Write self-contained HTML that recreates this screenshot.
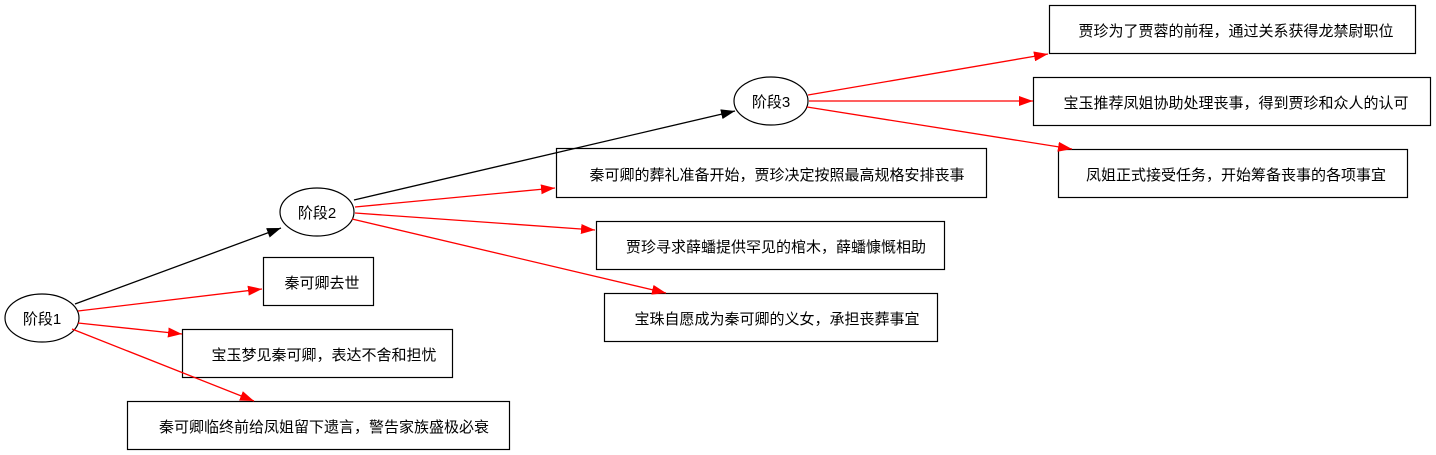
<!DOCTYPE html>
<html><head><meta charset="utf-8"><style>
html,body{margin:0;padding:0;background:#fff;}
svg{display:block;}
text{font-family:"Liberation Sans","Noto Sans CJK SC",sans-serif;font-size:15px;fill:#000;}
</style></head><body>
<svg width="1436" height="455" viewBox="0 0 1436 455" xmlns="http://www.w3.org/2000/svg">
<defs>
<marker id="ab" viewBox="0 0 14 10" refX="14" refY="5" markerWidth="14" markerHeight="10" markerUnits="userSpaceOnUse" orient="auto"><path d="M0,0 L14,5 L0,10 z" fill="#000"/></marker>
<marker id="ar" viewBox="0 0 14 10" refX="14" refY="5" markerWidth="14" markerHeight="10" markerUnits="userSpaceOnUse" orient="auto"><path d="M0,0 L14,5 L0,10 z" fill="#f00"/></marker>
</defs>
<g fill="#fff" stroke="#000" stroke-width="1.2">
<ellipse cx="42" cy="318" rx="37" ry="24"/>
<ellipse cx="317" cy="212" rx="37" ry="24"/>
<ellipse cx="771" cy="101" rx="37" ry="24"/>
<rect x="263.5" y="257.5" width="110" height="48"/>
<rect x="182.5" y="329.5" width="270" height="48"/>
<rect x="127.5" y="401.5" width="382" height="48"/>
<rect x="556.5" y="148.5" width="430" height="49"/>
<rect x="596.5" y="221.5" width="348" height="48"/>
<rect x="604.5" y="293.5" width="333" height="48"/>
<rect x="1049.5" y="5.5" width="366" height="48"/>
<rect x="1033.5" y="77.5" width="397" height="48"/>
<rect x="1058.5" y="149.5" width="349" height="48"/>
</g>
<g stroke-width="1.3" fill="none">
<line x1="75" y1="304" x2="281" y2="228" stroke="#000" marker-end="url(#ab)"/>
<line x1="354" y1="200" x2="735" y2="111" stroke="#000" marker-end="url(#ab)"/>
<line x1="78" y1="311" x2="262" y2="289" stroke="#f00" marker-end="url(#ar)"/>
<line x1="78" y1="323" x2="182" y2="334" stroke="#f00" marker-end="url(#ar)"/>
<line x1="72" y1="329" x2="254" y2="401" stroke="#f00" marker-end="url(#ar)"/>
<line x1="355" y1="207" x2="555" y2="188" stroke="#f00" marker-end="url(#ar)"/>
<line x1="355" y1="213" x2="595" y2="230" stroke="#f00" marker-end="url(#ar)"/>
<line x1="352" y1="219" x2="666" y2="293" stroke="#f00" marker-end="url(#ar)"/>
<line x1="808" y1="95" x2="1048" y2="54" stroke="#f00" marker-end="url(#ar)"/>
<line x1="809" y1="101" x2="1033" y2="101" stroke="#f00" marker-end="url(#ar)"/>
<line x1="807" y1="107" x2="1072" y2="149" stroke="#f00" marker-end="url(#ar)"/>
</g>
<g text-anchor="middle">
<text x="42" y="324">阶段1</text>
<text x="317" y="218">阶段2</text>
<text x="771" y="107">阶段3</text>
<text x="322" y="288">秦可卿去世</text>
<text x="324" y="360">宝玉梦见秦可卿，表达不舍和担忧</text>
<text x="324" y="432">秦可卿临终前给凤姐留下遗言，警告家族盛极必衰</text>
<text x="777" y="180">秦可卿的葬礼准备开始，贾珍决定按照最高规格安排丧事</text>
<text x="776" y="252">贾珍寻求薛蟠提供罕见的棺木，薛蟠慷慨相助</text>
<text x="777" y="324">宝珠自愿成为秦可卿的义女，承担丧葬事宜</text>
<text x="1236" y="36">贾珍为了贾蓉的前程，通过关系获得龙禁尉职位</text>
<text x="1236" y="108">宝玉推荐凤姐协助处理丧事，得到贾珍和众人的认可</text>
<text x="1236" y="180">凤姐正式接受任务，开始筹备丧事的各项事宜</text>
</g>
</svg>
</body></html>
